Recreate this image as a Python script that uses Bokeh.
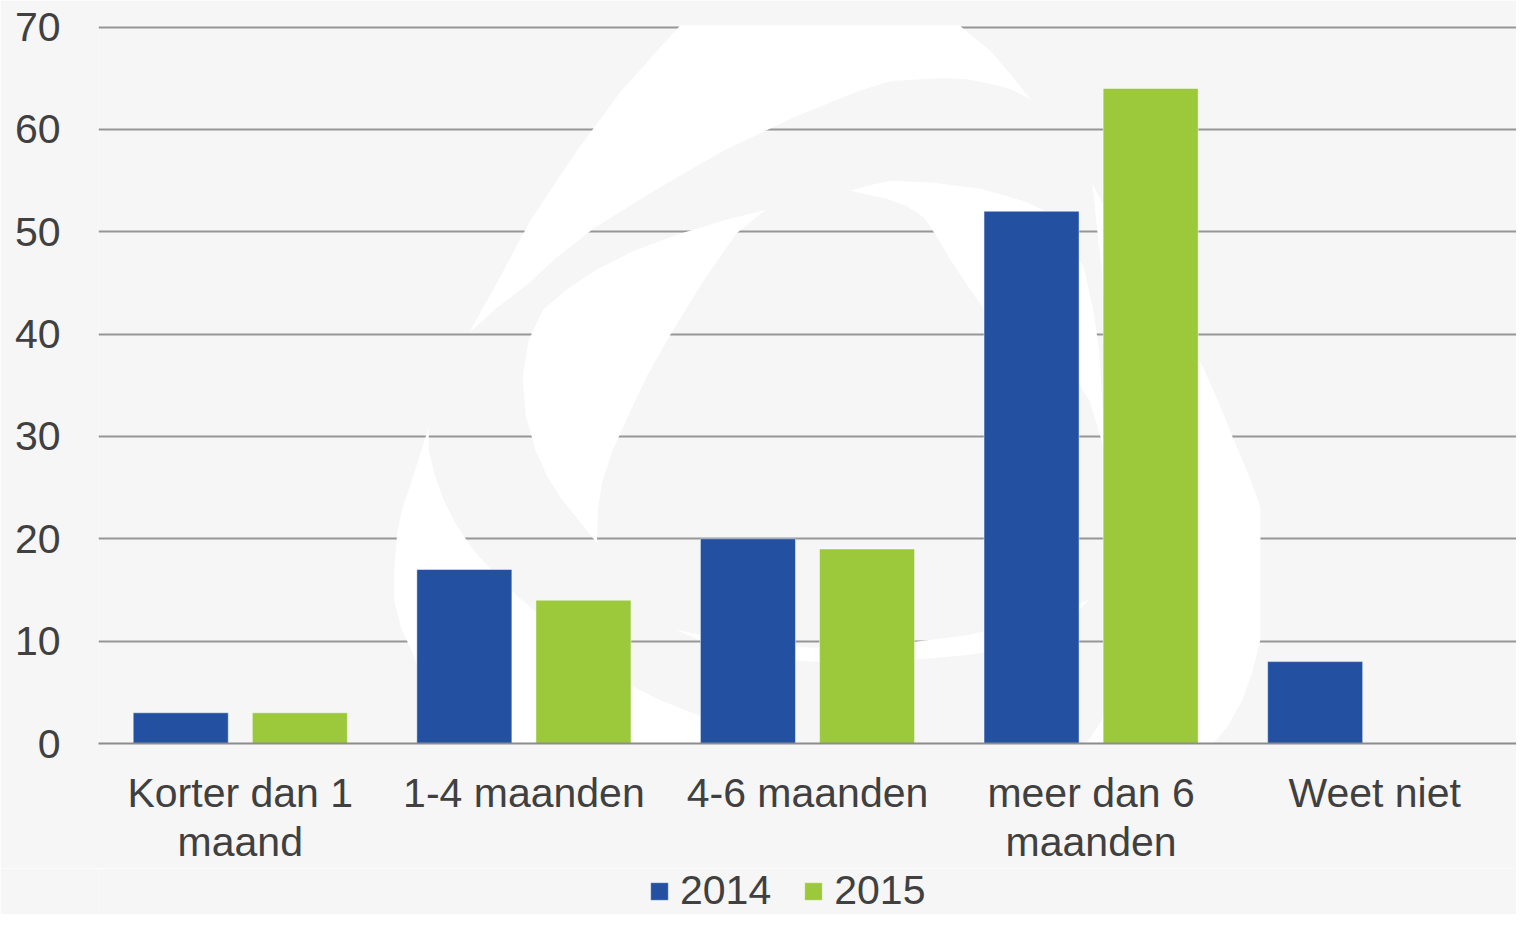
from bokeh.plotting import figure
from bokeh.models import (ColumnDataSource, Range1d, Legend, LegendItem, FixedTicker)
from bokeh.layouts import column
from bokeh.transform import dodge
from bokeh.embed import file_html
from bokeh.resources import INLINE

# ---- data ----
categories = ["Korter dan 1 maand", "1-4 maanden", "4-6 maanden",
              "meer dan 6 maanden", "Weet niet"]
category_labels = ["Korter dan 1\nmaand", "1-4 maanden", "4-6 maanden",
                   "meer dan 6\nmaanden", "Weet niet"]
series_names = ["2014", "2015"]
values_2014 = [3, 17, 20, 52, 8]
values_2015 = [3, 14, 19, 64, 0]
y_ticks = [0, 10, 20, 30, 40, 50, 60, 70]

colors = {"2014": "#2350a1", "2015": "#9bc93b"}
BG = "#f6f6f6"
TXT = "#404040"
FONT = "Liberation Sans"

# ---- watermark logo (decoration), outlines in reference pixel space ----
logo_px = [
    [(473, 332), (505, 275), (533, 223), (558, 185), (582, 150), (625, 92), (670, 42),
     (709, 0), (740, -30), (900, -30), (937, 0), (967, 23), (1000, 50), (1022, 75),
     (1040, 98), (1020, 88), (1000, 83), (975, 78), (953, 77), (900, 80), (867, 90),
     (800, 117), (730, 150), (660, 190), (600, 227), (560, 258), (533, 283), (500, 308)],
    [(773, 209), (730, 220), (687, 233), (640, 250), (600, 270), (570, 290), (547, 310),
     (533, 340), (527, 377), (530, 415), (540, 450), (552, 477), (567, 500), (585, 522),
     (602, 543), (603, 510), (607, 483), (618, 450), (633, 417), (653, 375), (677, 333),
     (710, 280), (743, 233)],
    [(432, 427), (415, 480), (405, 510), (400, 533), (397, 570), (397, 600), (404, 628),
     (414, 650), (425, 676), (440, 700), (460, 720), (483, 737), (510, 754), (540, 768),
     (575, 780), (610, 790), (655, 799), (700, 806), (740, 810), (782, 813), (835, 816),
     (885, 817), (925, 815), (960, 812), (1000, 806), (1030, 800), (995, 787), (960, 775),
     (920, 762), (879, 753), (840, 748), (800, 742), (747, 730), (715, 720), (690, 710),
     (665, 700), (644, 690), (615, 670), (590, 650), (568, 634), (546, 617), (520, 595),
     (500, 575), (477, 550), (460, 525), (447, 500), (438, 475), (432, 450)],
    [(682, 630), (740, 642), (820, 648), (900, 645), (980, 635), (1060, 615), (1100, 600),
     (1060, 640), (980, 655), (900, 662), (820, 662), (740, 655)],
    [(858, 190), (880, 184), (900, 180), (943, 182), (990, 188), (1033, 200), (1055, 210),
     (1070, 225), (1084, 245), (1095, 270), (1104, 310), (1110, 350), (1113, 400),
     (1115, 450), (1108, 425), (1100, 400), (1082, 372), (1060, 350), (1030, 332),
     (1000, 317), (980, 290), (960, 260), (945, 235), (933, 217), (915, 205), (895, 198)],
    [(1103, 182), (1117, 210), (1130, 240), (1152, 270), (1175, 300), (1195, 332),
     (1215, 367), (1230, 400), (1245, 437), (1260, 472), (1273, 507), (1273, 580),
     (1273, 640), (1265, 672), (1255, 700), (1240, 727), (1220, 750), (1197, 772),
     (1170, 790), (1140, 802), (1110, 810), (1070, 808), (1030, 800), (1060, 782),
     (1080, 760), (1100, 740), (1115, 717), (1125, 690), (1130, 660), (1134, 630),
     (1135, 600), (1133, 550), (1130, 500), (1127, 450), (1122, 400), (1118, 350),
     (1115, 300), (1112, 265), (1108, 230)],
]
REF_LEFT, REF_GROUP_W, REF_ZERO, REF_UNIT = 98.0, 286.8, 744.0, 718.0 / 70.0
logo_xs = [[(px - REF_LEFT) / REF_GROUP_W for px, py in poly] for poly in logo_px]
logo_ys = [[(REF_ZERO - py) / REF_UNIT for px, py in poly] for poly in logo_px]

# ---- main figure ----
n = len(categories)
centers = [i + 0.5 for i in range(n)]
src = ColumnDataSource(dict(cat=categories, xc=centers,
                            y2014=values_2014, y2015=values_2015))

MAIN_H, LEG_H = 868, 46
p = figure(x_range=Range1d(0, n), y_range=Range1d(0, 70.15),
           width=1516, height=MAIN_H, output_backend="svg", toolbar_location=None,
           min_border_left=98, min_border_right=0, min_border_top=25,
           min_border_bottom=MAIN_H - 744)
p.background_fill_color = BG
p.border_fill_color = BG
p.outline_line_color = None

p.patches(logo_xs, logo_ys, fill_color="white", line_color=None)

bar_style = dict(width=0.335, source=src, line_color="white", line_alpha=0.45,
                 line_width=1)
r14 = p.vbar(x=dodge("xc", -0.21), top="y2014", fill_color=colors["2014"], **bar_style)
r15 = p.vbar(x=dodge("xc", 0.21), top="y2015", fill_color=colors["2015"], **bar_style)

p.xgrid.grid_line_color = None
p.ygrid.grid_line_color = "#969696"
p.ygrid.grid_line_width = 2
p.ygrid.level = "image"

p.yaxis.ticker = FixedTicker(ticks=y_ticks)
p.yaxis.axis_line_color = None
p.yaxis.major_tick_line_color = None
p.yaxis.minor_tick_line_color = None
p.yaxis.major_label_text_font = FONT
p.yaxis.major_label_text_font_size = "41px"
p.yaxis.major_label_text_color = TXT
p.yaxis.major_label_standoff = 32

xa = p.xaxis[0]
xa.ticker = FixedTicker(ticks=centers)
xa.major_label_overrides = {c: lab for c, lab in zip(centers, category_labels)}
xa.axis_line_color = "#8c8c8c"
xa.axis_line_width = 2
xa.major_tick_line_color = None
xa.minor_tick_line_color = None
xa.major_label_text_font = FONT
xa.major_label_text_font_size = "41px"
xa.major_label_text_color = TXT
xa.major_label_text_line_height = 1.08
xa.major_label_standoff = 20

# ---- legend strip ----
q = figure(x_range=Range1d(0, 1), y_range=Range1d(0, 1), width=1516, height=LEG_H,
           output_backend="svg", toolbar_location=None,
           x_axis_location=None, y_axis_location=None,
           min_border_left=98, min_border_right=0,
           min_border_top=0, min_border_bottom=0)
q.background_fill_color = BG
q.border_fill_color = BG
q.outline_line_color = None
q.grid.visible = False
hidden = ColumnDataSource(dict(x=[-10], top=[0]))
l14 = q.vbar(x="x", top="top", width=0.1, source=hidden, fill_color=colors["2014"],
             line_color="white", line_alpha=0.45)
l15 = q.vbar(x="x", top="top", width=0.1, source=hidden, fill_color=colors["2015"],
             line_color="white", line_alpha=0.45)
legend = Legend(items=[LegendItem(label=series_names[0], renderers=[l14]),
                       LegendItem(label=series_names[1], renderers=[l15])],
                orientation="horizontal", location=(550, 0),
                glyph_width=22, glyph_height=22, label_standoff=10, spacing=31,
                padding=0, margin=0, border_line_color=None,
                background_fill_alpha=0, label_height=22,
                label_text_font=FONT, label_text_font_size="41px",
                label_text_line_height=1.0,
                label_text_color=TXT)
q.add_layout(legend, "center")

layout = column(p, q, spacing=0)
open("out.html", "w").write(file_html(layout, INLINE))
